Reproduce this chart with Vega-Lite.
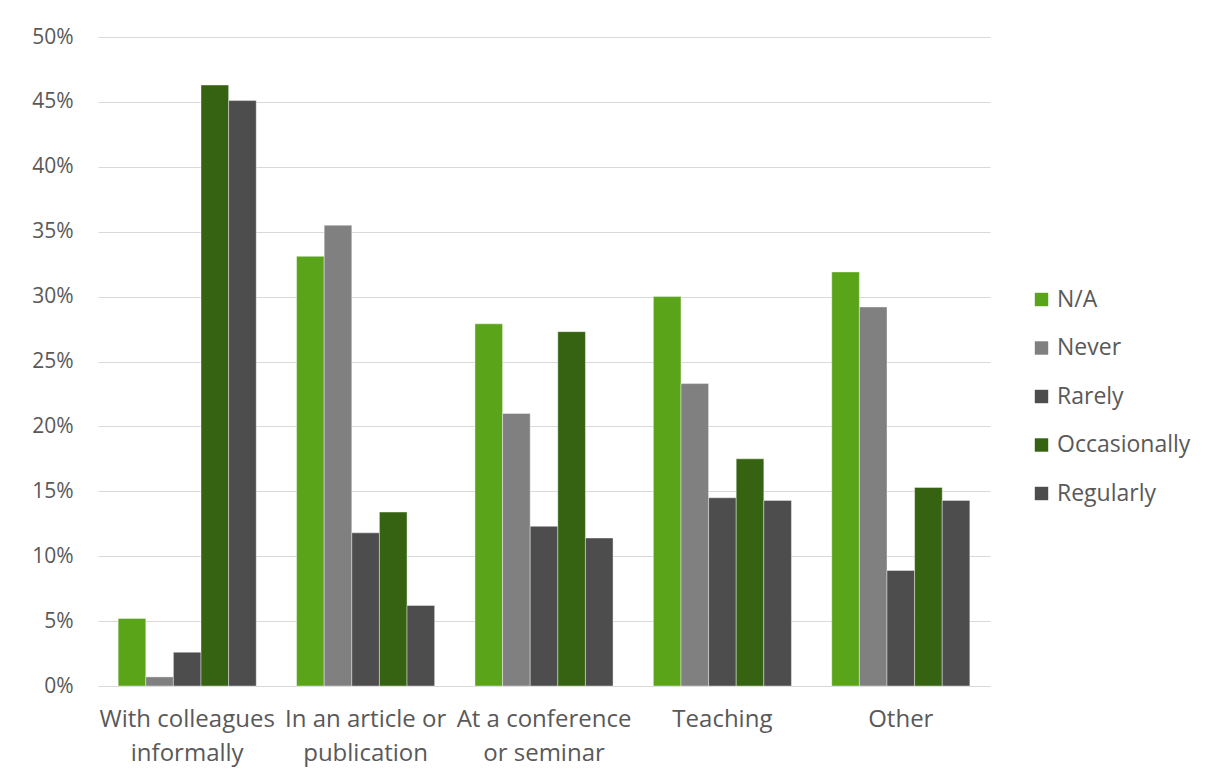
{
  "$schema": "https://vega.github.io/schema/vega-lite/v6.json",
  "width": 892,
  "height": 649,
  "autosize": {"type": "none"},
  "padding": {"left": 98, "top": 37, "right": 217, "bottom": 97},
  "background": "white",
  "config": {
    "font": "Open Sans",
    "view": {"stroke": null}
  },
  "data": {
    "values": [
      {"category": "With colleagues informally", "frequency": "N/A", "value": 0.052},
      {"category": "With colleagues informally", "frequency": "Never", "value": 0.007},
      {"category": "With colleagues informally", "frequency": "Rarely", "value": 0.026},
      {"category": "With colleagues informally", "frequency": "Occasionally", "value": 0.463},
      {"category": "With colleagues informally", "frequency": "Regularly", "value": 0.451},
      {"category": "In an article or publication", "frequency": "N/A", "value": 0.331},
      {"category": "In an article or publication", "frequency": "Never", "value": 0.355},
      {"category": "In an article or publication", "frequency": "Rarely", "value": 0.118},
      {"category": "In an article or publication", "frequency": "Occasionally", "value": 0.134},
      {"category": "In an article or publication", "frequency": "Regularly", "value": 0.062},
      {"category": "At a conference or seminar", "frequency": "N/A", "value": 0.279},
      {"category": "At a conference or seminar", "frequency": "Never", "value": 0.210},
      {"category": "At a conference or seminar", "frequency": "Rarely", "value": 0.123},
      {"category": "At a conference or seminar", "frequency": "Occasionally", "value": 0.273},
      {"category": "At a conference or seminar", "frequency": "Regularly", "value": 0.114},
      {"category": "Teaching", "frequency": "N/A", "value": 0.300},
      {"category": "Teaching", "frequency": "Never", "value": 0.233},
      {"category": "Teaching", "frequency": "Rarely", "value": 0.145},
      {"category": "Teaching", "frequency": "Occasionally", "value": 0.175},
      {"category": "Teaching", "frequency": "Regularly", "value": 0.143},
      {"category": "Other", "frequency": "N/A", "value": 0.319},
      {"category": "Other", "frequency": "Never", "value": 0.292},
      {"category": "Other", "frequency": "Rarely", "value": 0.089},
      {"category": "Other", "frequency": "Occasionally", "value": 0.153},
      {"category": "Other", "frequency": "Regularly", "value": 0.143}
    ]
  },
  "mark": {"type": "bar", "stroke": "#ffffff", "strokeWidth": 0.8, "strokeOpacity": 0.5},
  "encoding": {
    "x": {
      "field": "category",
      "type": "nominal",
      "sort": null,
      "scale": {"paddingInner": 0.226, "paddingOuter": 0.113},
      "axis": {
        "title": null,
        "labelAngle": 0,
        "domain": true,
        "domainColor": "#d9d9d9",
        "ticks": false,
        "labelPadding": 21,
        "labelFontSize": 24,
        "labelColor": "#595959",
        "labelLineHeight": 34,
        "labelBaseline": "top",
        "labelExpr": "datum.value == 'With colleagues informally' ? ['With colleagues', 'informally'] : datum.value == 'In an article or publication' ? ['In an article or', 'publication'] : datum.value == 'At a conference or seminar' ? ['At a conference', 'or seminar'] : datum.value"
      }
    },
    "xOffset": {
      "field": "frequency",
      "type": "nominal",
      "sort": ["N/A", "Never", "Rarely", "Occasionally", "Regularly"],
      "scale": {"paddingInner": 0, "paddingOuter": 0}
    },
    "y": {
      "field": "value",
      "type": "quantitative",
      "scale": {"domain": [0, 0.5], "nice": false},
      "axis": {
        "title": null,
        "format": ".0%",
        "values": [0, 0.05, 0.1, 0.15, 0.2, 0.25, 0.3, 0.35, 0.4, 0.45, 0.5],
        "domain": false,
        "ticks": false,
        "labelPadding": 25,
        "labelFontSize": 21,
        "labelColor": "#595959",
        "gridColor": "#d9d9d9",
        "gridWidth": 1
      }
    },
    "color": {
      "field": "frequency",
      "type": "nominal",
      "sort": ["N/A", "Never", "Rarely", "Occasionally", "Regularly"],
      "scale": {
        "domain": ["N/A", "Never", "Rarely", "Occasionally", "Regularly"],
        "range": ["#5aa419", "#808080", "#4d4d4d", "#356311", "#4d4d4d"]
      },
      "legend": {
        "title": null,
        "orient": "none",
        "legendX": 932,
        "legendY": 251,
        "symbolType": "square",
        "symbolSize": 180,
        "symbolStrokeWidth": 0,
        "labelFontSize": 23,
        "labelColor": "#595959",
        "labelOffset": 4,
        "rowPadding": 24.5
      }
    }
  }
}
